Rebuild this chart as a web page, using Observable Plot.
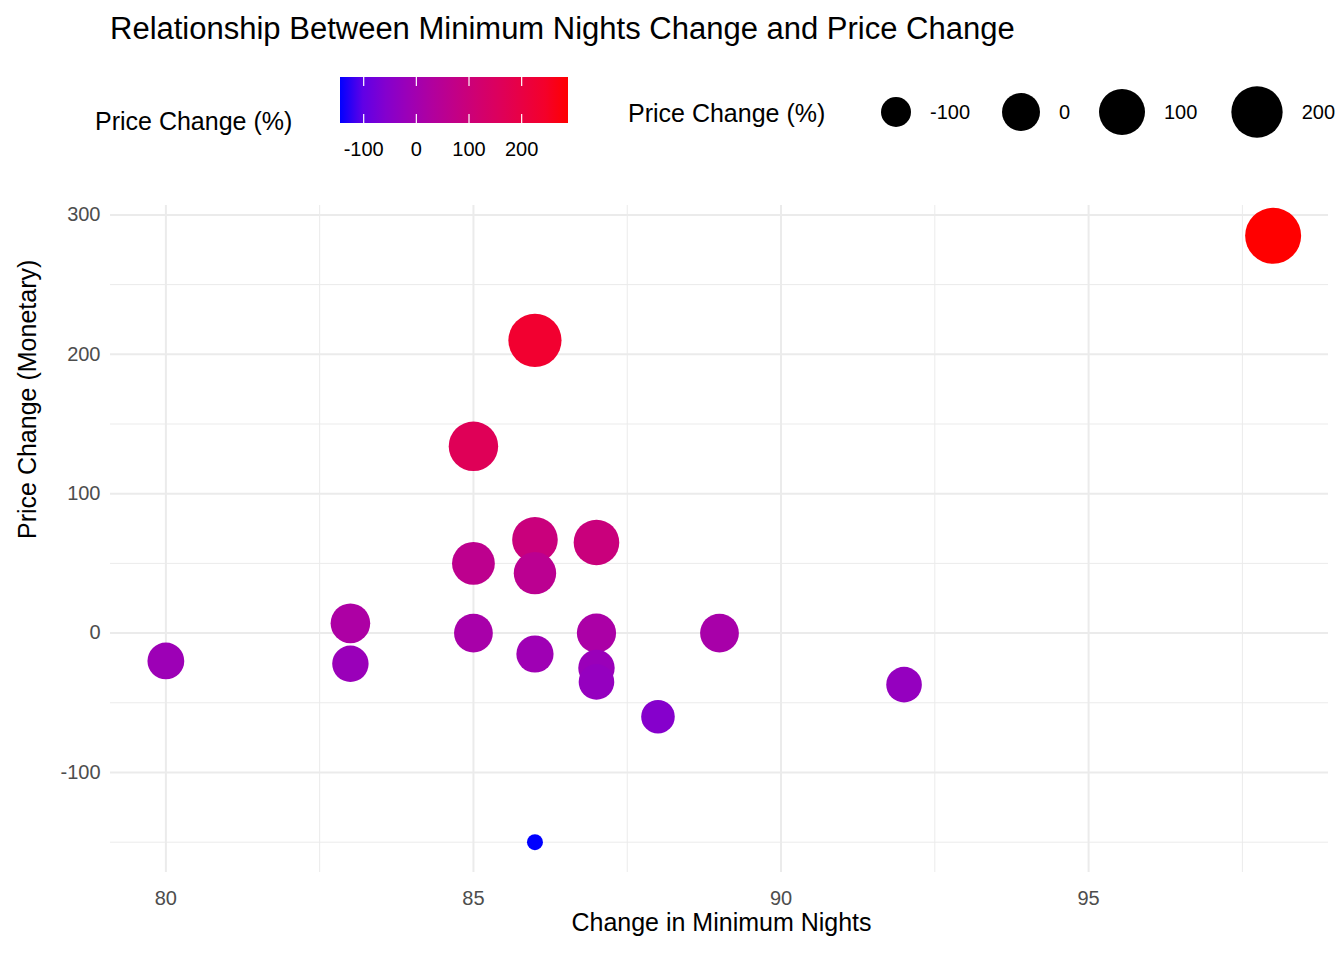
<!DOCTYPE html>
<html><head><meta charset="utf-8">
<script src="https://cdn.jsdelivr.net/npm/d3@7"></script>
<script src="https://cdn.jsdelivr.net/npm/@observablehq/plot@0.6"></script>
<style>
body{margin:0;width:1344px;height:960px;background:#fff;font-family:"Liberation Sans",Arial,sans-serif;position:relative;overflow:hidden}
#title{position:absolute;left:110px;top:11px;font-size:31px;color:#000;white-space:nowrap}
#chart{position:absolute;left:0;top:180px}
</style></head><body>
<div id="title">Relationship Between Minimum Nights Change and Price Change</div>
<div id="legends"></div>
<div id="chart"></div>
<script>
const minNights = [98, 86, 85, 86, 87, 85, 86, 83, 85, 87, 89, 86, 80, 83, 87, 87, 92, 88, 86];
const priceChange = [285, 210, 134, 67, 65, 50, 43, 7, 0, 0, 0, -15, -20, -22, -25, -35, -37, -60, -150];
const pricePct = [288, 235, 165, 95, 95, 60, 55, 20, 10, 15, 10, -10, -15, -20, -20, -30, -30, -55, -145];
const legendTicks = [-100, 0, 100, 200];

const data = minNights.map((x, i) => ({x, y: priceChange[i], p: pricePct[i]}));
const cDomain = [-145, 288];
const col = d3.scaleLinear().domain(cDomain).range(["#0000ff", "#ff0000"]).interpolate(d3.interpolateLab);
const rDomain = [-145, -100, 0, 100, 288];
const rRange = [8, 15, 19, 23, 28];

const chart = Plot.plot({
  width: 1344, height: 780,
  marginLeft: 110, marginRight: 16, marginTop: 25, marginBottom: 88,
  style: {fontFamily: "Liberation Sans, Arial, sans-serif", color: "#4d4d4d", background: "transparent"},
  x: {domain: [79.1, 98.9], label: null},
  y: {domain: [-171.75, 306.75], label: null},
  color: {type: "linear", domain: cDomain, range: ["#0000ff", "#ff0000"], interpolate: "lab"},
  r: {type: "linear", domain: rDomain, range: rRange, clamp: true},
  marks: [
    Plot.gridX([82.5, 87.5, 92.5, 97.5], {stroke: "#ebebeb", strokeOpacity: 1, strokeWidth: 1}),
    Plot.gridY([-150, -50, 50, 150, 250], {stroke: "#ebebeb", strokeOpacity: 1, strokeWidth: 1}),
    Plot.gridX([80, 85, 90, 95], {stroke: "#ebebeb", strokeOpacity: 1, strokeWidth: 2}),
    Plot.gridY([-100, 0, 100, 200, 300], {stroke: "#ebebeb", strokeOpacity: 1, strokeWidth: 2}),
    Plot.axisX({ticks: [80, 85, 90, 95], tickFormat: d => String(d), tickSize: 0, tickPadding: 18, label: null, fontSize: 20, fill: "#4d4d4d"}),
    Plot.axisY({ticks: [-100, 0, 100, 200, 300], tickFormat: d => String(d), tickSize: 0, tickPadding: 10, label: null, fontSize: 20, fill: "#4d4d4d"}),
    Plot.dot(data, {x: "x", y: "y", r: "p", fill: "p", stroke: null}),
    Plot.text(["Change in Minimum Nights"], {frameAnchor: "bottom", dy: 58, fontSize: 25, fill: "#000", dx: 2}),
    Plot.text(["Price Change (Monetary)"], {frameAnchor: "left", rotate: -90, dx: -83, fontSize: 25, fill: "#000"})
  ]
});
document.getElementById("chart").appendChild(chart);

const L = document.getElementById("legends");
const cx = d3.scaleLinear().domain(cDomain).range([340, 568]);
const F = `font-family="Liberation Sans, Arial" fill="#000"`;
let svg = `<svg style="position:absolute;left:0;top:0" width="1344" height="180"><defs><linearGradient id="g">`;
for (let i = 0; i <= 10; i++) { const v = cDomain[0] + (cDomain[1]-cDomain[0])*i/10; svg += `<stop offset="${i*10}%" stop-color="${col(v)}"/>`; }
svg += `</linearGradient></defs><rect x="340" y="77" width="228" height="46" fill="url(#g)"/>`;
svg += `<text x="95" y="130" font-size="25" ${F}>Price Change (%)</text>`;
legendTicks.forEach(t => {
  svg += `<line x1="${cx(t)}" x2="${cx(t)}" y1="77" y2="86" stroke="#fff" stroke-width="1.2"/><line x1="${cx(t)}" x2="${cx(t)}" y1="114" y2="123" stroke="#fff" stroke-width="1.2"/>`;
  svg += `<text x="${cx(t)}" y="156" text-anchor="middle" font-size="20" ${F}>${t}</text>`;
});
const rs = d3.scaleLinear().domain(rDomain).range(rRange);
const centers = [896, 1021, 1122, 1257];
legendTicks.forEach((t, i) => {
  svg += `<circle cx="${centers[i]}" cy="112" r="${rs(t)}" fill="#000"/>`;
  svg += `<text x="${centers[i] + rs(t) + 19}" y="119" font-size="20" ${F}>${t}</text>`;
});
svg += `<text x="628" y="122" font-size="25" ${F}>Price Change (%)</text></svg>`;
L.innerHTML += svg;
</script>
</body></html>
